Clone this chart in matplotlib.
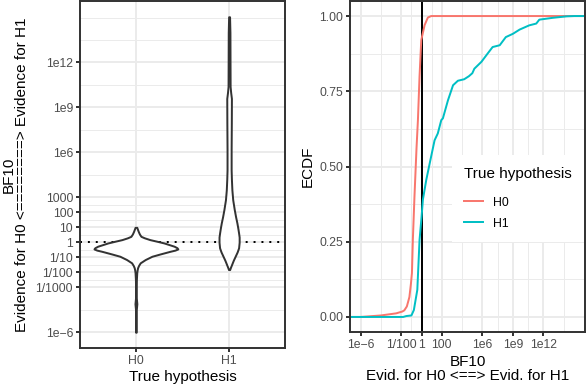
import numpy as np
import matplotlib
matplotlib.use("Agg")
import matplotlib.pyplot as plt
from matplotlib.lines import Line2D
from matplotlib.ticker import FixedLocator, FixedFormatter, NullFormatter

plt.rcParams['font.family'] = ['Liberation Sans', 'DejaVu Sans']

# ---------------- data ----------------
categories = ["H0", "H1"]

# violin outlines: log10(BF10) levels and half-widths (category units)
h0_violin_log10 = [-6.0, -5.5, -4.5, -4.1, -3.7, -3.0, -2.5, -2.03, -1.85, -1.7,
                   -1.55, -1.37, -1.15, -0.93, -0.78, -0.6, -0.52, -0.44, -0.36,
                   -0.26, -0.15, -0.04, 0.07, 0.18, 0.3, 0.4, 0.55, 0.73, 0.88, 1.0]
h0_violin_halfw = [0.003, 0.003, 0.004, 0.010, 0.004, 0.004, 0.005, 0.009, 0.013, 0.018,
                   0.028, 0.046, 0.100, 0.172, 0.258, 0.366, 0.420, 0.450, 0.440,
                   0.410, 0.355, 0.300, 0.226, 0.150, 0.091, 0.054, 0.038, 0.025, 0.016, 0.009]

h1_violin_log10 = [-1.82, -1.65, -1.48, -1.2, -0.93, -0.65, -0.37, 0.0, 0.35, 0.62,
                   0.9, 1.29, 1.7, 2.17, 2.84, 3.5, 4.2, 4.83, 6.2, 8.0, 9.6, 10.0,
                   10.4, 12.0, 14.0, 15.05]
h1_violin_halfw = [0.006, 0.016, 0.027, 0.045, 0.065, 0.086, 0.102, 0.108, 0.108, 0.102,
                   0.095, 0.084, 0.070, 0.056, 0.039, 0.030, 0.025, 0.022, 0.022, 0.024,
                   0.025, 0.017, 0.011, 0.010, 0.009, 0.005]

# ECDF curves: log10(BF10) and cumulative proportion
h0_ecdf_log10 = [-6.0, -4.0, -2.5, -1.9, -1.7, -1.45, -1.2, -1.05, -0.95, -0.86, -0.7,
                 -0.5, -0.36, -0.2, -0.03, 0.3, 0.62, 0.95]
h0_ecdf_value = [0.0, 0.005, 0.012, 0.018, 0.022, 0.035, 0.066, 0.11, 0.146, 0.256, 0.40,
                 0.56, 0.654, 0.80, 0.92, 0.97, 0.995, 1.0]

h1_ecdf_log10 = [-1.82, -1.5, -1.0, -0.76, -0.42, -0.2, 0.0, 0.13, 0.46, 0.86, 1.28, 1.6,
                 1.94, 2.1, 2.6, 2.93, 3.1, 3.58, 4.2, 4.66, 5.0, 5.2, 5.9, 6.5, 7.0, 7.7,
                 8.3, 9.0, 9.66, 10.6, 11.3, 11.6, 12.9, 14.3, 15.05]
h1_ecdf_value = [0.0, 0.003, 0.005, 0.023, 0.09, 0.256, 0.333, 0.39, 0.455, 0.52, 0.587, 0.61,
                 0.654, 0.66, 0.72, 0.753, 0.77, 0.785, 0.79, 0.80, 0.81, 0.825, 0.848, 0.875,
                 0.897, 0.903, 0.93, 0.941, 0.955, 0.969, 0.975, 0.988, 0.994, 0.999, 1.0]

# tick breaks / labels
left_breaks_log10 = [-6, -3, -2, -1, 0, 1, 2, 3, 6, 9, 12]
left_labels = ["1e\u22126", "1/1000", "1/100", "1/10", "1", "10", "100", "1000",
               "1e6", "1e9", "1e12"]
right_breaks_log10 = [-6, -2, 0, 2, 6, 9, 12]
right_labels = ["1e\u22126", "1/100", "1", "100", "1e6", "1e9", "1e12"]
ecdf_breaks = [0.0, 0.25, 0.5, 0.75, 1.0]
ecdf_labels = ["0.00", "0.25", "0.50", "0.75", "1.00"]

# ---------------- style ----------------
GRID = "#EBEBEB"
BORDER = "#333333"
TICKTXT = "#4D4D4D"
RED = "#F8766D"
CYAN = "#00BFC4"
LW = 1.42


def gg_minor(breaks, lo, hi):
    b = list(breaks)
    bd = b[1] - b[0]
    if lo < b[0]:
        b = [b[0] - bd] + b
    if hi > b[-1]:
        b = b + [b[-1] + bd]
    out = []
    for a, c in zip(b[:-1], b[1:]):
        out += [a, (a + c) / 2]
    out.append(b[-1])
    return [m for m in out if lo <= m <= hi and m not in breaks]


def style_axes(ax):
    for s in ax.spines.values():
        s.set_color(BORDER)
        s.set_linewidth(LW)
    ax.set_axisbelow(True)
    ax.tick_params(which='major', length=2.75, width=LW, color=BORDER,
                   labelsize=8.8, labelcolor=TICKTXT, pad=2.2)
    ax.tick_params(which='minor', length=0)


W, H = 586, 388
fig = plt.figure(figsize=(W / 100, H / 100), dpi=100)

# ---------------- left: violins ----------------
axL = fig.add_axes([80 / W, (H - 348) / H, 205 / W, 347 / H])
allv = h0_violin_log10 + h1_violin_log10
lo, hi = min(allv), max(allv)
pad = 0.05 * (hi - lo)
ylo, yhi = lo - pad, hi + pad
axL.set_yscale('log')
axL.set_ylim(10 ** ylo, 10 ** yhi)
axL.set_xlim(0.4, 2.6)

axL.axhline(1, color='black', lw=LW, linestyle=(0, (1, 3)), zorder=1.5)
for i, (lv, hw) in enumerate([(h0_violin_log10, h0_violin_halfw),
                              (h1_violin_log10, h1_violin_halfw)]):
    c = i + 1
    yv = 10 ** np.asarray(lv)
    hw = np.asarray(hw)
    axL.fill_betweenx(yv, c - hw, c + hw, facecolor='white', edgecolor=BORDER,
                      linewidth=LW, zorder=2)

axL.xaxis.set_major_locator(FixedLocator([1, 2]))
axL.xaxis.set_major_formatter(FixedFormatter(categories))
axL.yaxis.set_major_locator(FixedLocator([10.0 ** b for b in left_breaks_log10]))
axL.yaxis.set_major_formatter(FixedFormatter(left_labels))
axL.yaxis.set_minor_locator(FixedLocator([10.0 ** m for m in gg_minor(left_breaks_log10, ylo, yhi)]))
axL.yaxis.set_minor_formatter(NullFormatter())
axL.grid(which='major', color=GRID, lw=LW)
axL.grid(which='minor', axis='y', color=GRID, lw=LW / 2)
style_axes(axL)

axL.set_xlabel("True hypothesis", fontsize=11, color='black')
axL.xaxis.set_label_coords(0.5, (348 - 377) / 347)
axL.xaxis.label.set_va('center')
axL.set_ylabel("BF10\nEvidence for H0 <========> Evidence for H1", fontsize=11,
               color='black', linespacing=0.95)
axL.yaxis.label.set_va('center')
axL.yaxis.set_label_coords((15 - 80) / 205, 0.5)

# ---------------- right: ECDF ----------------
axR = fig.add_axes([350 / W, (H - 332) / H, 235 / W, 331 / H])
alle = h0_ecdf_log10 + h1_ecdf_log10
lo, hi = min(alle), max(alle)
pad = 0.05 * (hi - lo)
xlo, xhi = lo - pad, hi + pad
axR.set_xscale('log')
axR.set_xlim(10 ** xlo, 10 ** xhi)
axR.set_ylim(-0.05, 1.05)

axR.axvline(1, color='black', lw=LW, zorder=1.8)
for lv, ev, col in [(h0_ecdf_log10, h0_ecdf_value, RED),
                    (h1_ecdf_log10, h1_ecdf_value, CYAN)]:
    xs = np.concatenate([[xlo], lv, [xhi]])
    ys = np.concatenate([[0.0], ev, [1.0]])
    axR.plot(10 ** xs, ys, color=col, lw=LW, zorder=2)

axR.xaxis.set_major_locator(FixedLocator([10.0 ** b for b in right_breaks_log10]))
axR.xaxis.set_major_formatter(FixedFormatter(right_labels))
axR.xaxis.set_minor_locator(FixedLocator([10.0 ** m for m in gg_minor(right_breaks_log10, xlo, xhi)]))
axR.xaxis.set_minor_formatter(NullFormatter())
axR.yaxis.set_major_locator(FixedLocator(ecdf_breaks))
axR.yaxis.set_major_formatter(FixedFormatter(ecdf_labels))
axR.yaxis.set_minor_locator(FixedLocator(gg_minor(ecdf_breaks, -0.05, 1.05)))
axR.grid(which='major', color=GRID, lw=LW)
axR.grid(which='minor', color=GRID, lw=LW / 2)
style_axes(axR)

axR.set_xlabel("BF10\nEvid. for H0 <==> Evid. for H1", fontsize=11, color='black',
               linespacing=0.95)
axR.xaxis.label.set_va('center')
axR.xaxis.set_label_coords(0.5, (332 - 369) / 331)
axR.set_ylabel("ECDF", fontsize=11, color='black')
axR.yaxis.label.set_va('center')
axR.yaxis.set_label_coords((308 - 350) / 235, 0.5)

handles = [Line2D([], [], color=RED, lw=LW), Line2D([], [], color=CYAN, lw=LW)]
leg = axR.legend(handles, categories, title="True hypothesis", loc='upper left',
                 bbox_to_anchor=((452 - 350) / 235, (332 - 155) / 331),
                 bbox_transform=axR.transAxes, borderaxespad=0, frameon=True,
                 fancybox=False, edgecolor='none', facecolor='white', framealpha=1,
                 fontsize=8.8, title_fontsize=11, handlelength=1.56,
                 handletextpad=0.8, labelspacing=0.75, borderpad=1.0,
                 alignment='left')
# extra gap between legend title and its entries (ggplot-like)
leg._legend_box.sep = 11.0

fig.savefig("out.png", dpi=100)
